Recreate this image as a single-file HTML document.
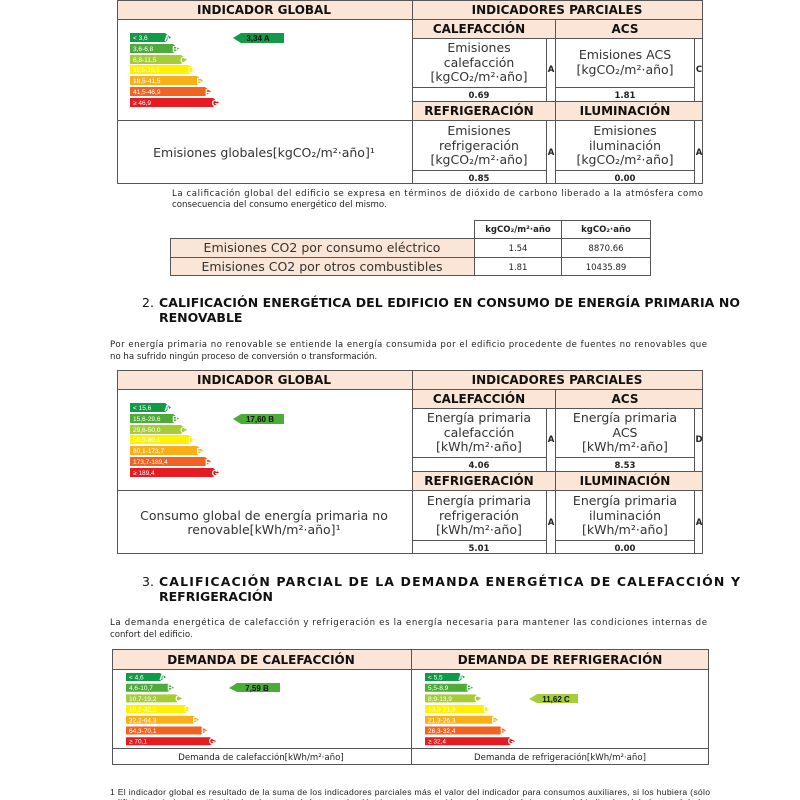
<!DOCTYPE html>
<html><head><meta charset="utf-8"><style>
html,body{margin:0;padding:0;background:#fff;}
svg{display:block;}
.h{font-family:"DejaVu Sans",sans-serif;font-weight:bold;font-size:12px;fill:#111;text-anchor:middle;}
.c{font-family:"DejaVu Sans",sans-serif;font-size:12.5px;fill:#333;text-anchor:middle;}
.v{font-family:"DejaVu Sans",sans-serif;font-weight:bold;font-size:8.5px;fill:#222;text-anchor:middle;}
.p{font-family:"DejaVu Sans",sans-serif;font-size:8.6px;fill:#222;}
.t{font-family:"DejaVu Sans",sans-serif;font-weight:bold;font-size:12.5px;fill:#111;}
.bl{font-family:"Liberation Sans",sans-serif;font-size:6.5px;fill:#fff;}
.bk{font-family:"Liberation Sans",sans-serif;font-size:8px;font-weight:bold;fill:#fff;text-anchor:end;}
.ik{font-family:"Liberation Sans",sans-serif;font-size:8px;font-weight:bold;fill:#111;text-anchor:middle;}
line{stroke:#555;stroke-width:1;}
</style></head><body>
<svg width="800" height="800" xmlns="http://www.w3.org/2000/svg">
<defs>
<g id="bars9">
<polygon points="0,0 35,0 41,4.5 35,9 0,9" fill="#139a48"/>
<polygon points="0,11 43,11 49,15.5 43,20 0,20" fill="#4dab3a"/>
<polygon points="0,22 51,22 57,26.5 51,31 0,31" fill="#a6cd39"/>
<polygon points="0,32 59,32 65,36.5 59,41 0,41" fill="#fff100"/>
<polygon points="0,43 67,43 73,47.5 67,52 0,52" fill="#f8b016"/>
<polygon points="0,54 75,54 81,58.5 75,63 0,63" fill="#f16322"/>
<polygon points="0,65 83,65 89,69.5 83,74 0,74" fill="#e51c22"/>
<text class="bk" x="40" y="8">A</text><text class="bk" x="48" y="19">B</text><text class="bk" x="56" y="30">C</text><text class="bk" x="64" y="40">D</text><text class="bk" x="72" y="51">E</text><text class="bk" x="80" y="62">F</text><text class="bk" x="88" y="73">G</text>
</g>
<g id="bars8">
<polygon points="0,0 34,0 40,4 34,8 0,8" fill="#139a48"/>
<polygon points="0,10.7 42,10.7 48,14.7 42,18.7 0,18.7" fill="#4dab3a"/>
<polygon points="0,21.4 50,21.4 56,25.4 50,29.4 0,29.4" fill="#a6cd39"/>
<polygon points="0,32 59,32 65,36 59,40 0,40" fill="#fff100"/>
<polygon points="0,42.8 67,42.8 73,46.8 67,50.8 0,50.8" fill="#f8b016"/>
<polygon points="0,53.5 75,53.5 81,57.5 75,61.5 0,61.5" fill="#f16322"/>
<polygon points="0,64.2 84,64.2 90,68.2 84,72.2 0,72.2" fill="#e51c22"/>
<text class="bk" x="39" y="7">A</text><text class="bk" x="47" y="17.7">B</text><text class="bk" x="55" y="28.4">C</text><text class="bk" x="64" y="39">D</text><text class="bk" x="72" y="49.8">E</text><text class="bk" x="80" y="60.5">F</text><text class="bk" x="89" y="71.2">G</text>
</g>
</defs>

<!-- TABLE 1 -->
<rect x="117" y="0" width="586" height="19" fill="#fbe5d6"/>
<rect x="412" y="19" width="291" height="19" fill="#fbe5d6"/>
<rect x="412" y="101" width="291" height="19" fill="#fbe5d6"/>
<rect x="117.5" y="0.5" width="585" height="183" fill="none" stroke="#555"/>
<line x1="117" y1="19.5" x2="703" y2="19.5"/>
<line x1="412.5" y1="0" x2="412.5" y2="183"/>
<line x1="412" y1="38.5" x2="703" y2="38.5"/>
<line x1="412" y1="87.5" x2="546" y2="87.5"/><line x1="555" y1="87.5" x2="694" y2="87.5"/>
<line x1="412" y1="101.5" x2="703" y2="101.5"/>
<line x1="117" y1="120.5" x2="703" y2="120.5"/>
<line x1="412" y1="170.5" x2="546" y2="170.5"/><line x1="555" y1="170.5" x2="694" y2="170.5"/>
<line x1="555.5" y1="19" x2="555.5" y2="183"/>
<line x1="546.5" y1="38" x2="546.5" y2="101"/><line x1="694.5" y1="38" x2="694.5" y2="101"/>
<line x1="546.5" y1="120" x2="546.5" y2="183"/><line x1="694.5" y1="120" x2="694.5" y2="183"/>
<text class="h" x="264" y="14">INDICADOR GLOBAL</text>
<text class="h" x="557" y="14">INDICADORES PARCIALES</text>
<text class="h" x="479" y="33">CALEFACCIÓN</text><text class="h" x="625" y="33">ACS</text>
<text class="c" x="479" y="52">Emisiones</text><text class="c" x="479" y="67">calefacción</text><text class="c" x="479" y="81">[kgCO₂/m²·año]</text>
<text class="v" x="551" y="72">A</text>
<text class="c" x="625" y="59">Emisiones ACS</text><text class="c" x="625" y="74">[kgCO₂/m²·año]</text>
<text class="v" x="699" y="72">C</text>
<text class="v" x="479" y="98">0.69</text><text class="v" x="625" y="98">1.81</text>
<text class="h" x="479" y="115">REFRIGERACIÓN</text><text class="h" x="625" y="115">ILUMINACIÓN</text>
<text class="c" x="479" y="135">Emisiones</text><text class="c" x="479" y="150">refrigeración</text><text class="c" x="479" y="164">[kgCO₂/m²·año]</text>
<text class="v" x="551" y="155">A</text>
<text class="c" x="625" y="135">Emisiones</text><text class="c" x="625" y="150">iluminación</text><text class="c" x="625" y="164">[kgCO₂/m²·año]</text>
<text class="v" x="699" y="155">A</text>
<text class="v" x="479" y="181">0.85</text><text class="v" x="625" y="181">0.00</text>
<text class="c" x="264" y="157">Emisiones globales[kgCO₂/m²·año]¹</text>
<g transform="translate(130,33)"><use href="#bars9"/>
<text class="bl" x="3" y="7">&lt; 3,6</text><text class="bl" x="3" y="18">3,6-6,8</text><text class="bl" x="3" y="29">6,8-11,5</text><text class="bl" x="3" y="39">11,5-18,5</text><text class="bl" x="3" y="50">18,5-41,5</text><text class="bl" x="3" y="61">41,5-46,9</text><text class="bl" x="3" y="72">≥ 46,9</text></g>
<polygon points="233,38 241,33 284,33 284,43 241,43" fill="#139a48"/>
<text class="ik" x="258" y="41">3,34 A</text>

<text class="p" x="172" y="196" textLength="531" lengthAdjust="spacing">La calificación global del edificio se expresa en términos de dióxido de carbono liberado a la atmósfera como</text>
<text class="p" x="172" y="207">consecuencia del consumo energético del mismo.</text>

<!-- small table -->
<rect x="170" y="238" width="305" height="38" fill="#fbe5d6"/>
<rect x="474.5" y="220.5" width="176" height="55" fill="none" stroke="#555"/>
<line x1="561.5" y1="220" x2="561.5" y2="276"/>
<line x1="170" y1="238.5" x2="650" y2="238.5"/>
<line x1="170" y1="257.5" x2="650" y2="257.5"/>
<line x1="170" y1="275.5" x2="650" y2="275.5"/>
<line x1="170.5" y1="238" x2="170.5" y2="276"/>
<text class="v" x="518" y="232">kgCO₂/m²·año</text><text class="v" x="606" y="232">kgCO₂·año</text>
<text class="c" x="322" y="252">Emisiones CO2 por consumo eléctrico</text>
<text class="c" x="322" y="271">Emisiones CO2 por otros combustibles</text>
<text class="v" x="518" y="251" style="font-weight:normal">1.54</text><text class="v" x="606" y="251" style="font-weight:normal">8870.66</text>
<text class="v" x="518" y="270" style="font-weight:normal">1.81</text><text class="v" x="606" y="270" style="font-weight:normal">10435.89</text>

<!-- heading 2 -->
<text class="t" x="142" y="307" style="font-weight:normal">2.</text>
<text class="t" x="159" y="307" textLength="581" lengthAdjust="spacing">CALIFICACIÓN ENERGÉTICA DEL EDIFICIO EN CONSUMO DE ENERGÍA PRIMARIA NO</text>
<text class="t" x="159" y="322">RENOVABLE</text>
<text class="p" x="110" y="347" textLength="597" lengthAdjust="spacing">Por energía primaria no renovable se entiende la energía consumida por el edificio procedente de fuentes no renovables que</text>
<text class="p" x="110" y="359">no ha sufrido ningún proceso de conversión o transformación.</text>

<!-- TABLE 2 -->
<g transform="translate(0,370)">
<rect x="117" y="0" width="586" height="19" fill="#fbe5d6"/>
<rect x="412" y="19" width="291" height="19" fill="#fbe5d6"/>
<rect x="412" y="101" width="291" height="19" fill="#fbe5d6"/>
<rect x="117.5" y="0.5" width="585" height="183" fill="none" stroke="#555"/>
<line x1="117" y1="19.5" x2="703" y2="19.5"/>
<line x1="412.5" y1="0" x2="412.5" y2="183"/>
<line x1="412" y1="38.5" x2="703" y2="38.5"/>
<line x1="412" y1="87.5" x2="546" y2="87.5"/><line x1="555" y1="87.5" x2="694" y2="87.5"/>
<line x1="412" y1="101.5" x2="703" y2="101.5"/>
<line x1="117" y1="120.5" x2="703" y2="120.5"/>
<line x1="412" y1="170.5" x2="546" y2="170.5"/><line x1="555" y1="170.5" x2="694" y2="170.5"/>
<line x1="555.5" y1="19" x2="555.5" y2="183"/>
<line x1="546.5" y1="38" x2="546.5" y2="101"/><line x1="694.5" y1="38" x2="694.5" y2="101"/>
<line x1="546.5" y1="120" x2="546.5" y2="183"/><line x1="694.5" y1="120" x2="694.5" y2="183"/>
<text class="h" x="264" y="14">INDICADOR GLOBAL</text>
<text class="h" x="557" y="14">INDICADORES PARCIALES</text>
<text class="h" x="479" y="33">CALEFACCIÓN</text><text class="h" x="625" y="33">ACS</text>
<text class="c" x="479" y="52">Energía primaria</text><text class="c" x="479" y="67">calefacción</text><text class="c" x="479" y="81">[kWh/m²·año]</text>
<text class="v" x="551" y="72">A</text>
<text class="c" x="625" y="52">Energía primaria</text><text class="c" x="625" y="67">ACS</text><text class="c" x="625" y="81">[kWh/m²·año]</text>
<text class="v" x="699" y="72">D</text>
<text class="v" x="479" y="98">4.06</text><text class="v" x="625" y="98">8.53</text>
<text class="h" x="479" y="115">REFRIGERACIÓN</text><text class="h" x="625" y="115">ILUMINACIÓN</text>
<text class="c" x="479" y="135">Energía primaria</text><text class="c" x="479" y="150">refrigeración</text><text class="c" x="479" y="164">[kWh/m²·año]</text>
<text class="v" x="551" y="155">A</text>
<text class="c" x="625" y="135">Energía primaria</text><text class="c" x="625" y="150">iluminación</text><text class="c" x="625" y="164">[kWh/m²·año]</text>
<text class="v" x="699" y="155">A</text>
<text class="v" x="479" y="181">5.01</text><text class="v" x="625" y="181">0.00</text>
<text class="c" x="264" y="150">Consumo global de energía primaria no</text>
<text class="c" x="264" y="164">renovable[kWh/m²·año]¹</text>
<g transform="translate(130,33)"><use href="#bars9"/>
<text class="bl" x="3" y="7">&lt; 15,6</text><text class="bl" x="3" y="18">15,6-29,6</text><text class="bl" x="3" y="29">29,6-50,0</text><text class="bl" x="3" y="39">50,0-80,1</text><text class="bl" x="3" y="50">80,1-173,7</text><text class="bl" x="3" y="61">173,7-189,4</text><text class="bl" x="3" y="72">≥ 189,4</text></g>
<polygon points="233,49 241,44 284,44 284,54 241,54" fill="#4dab3a"/>
<text class="ik" x="260" y="52">17,60 B</text>
</g>

<!-- heading 3 -->
<text class="t" x="142" y="586" style="font-weight:normal">3.</text>
<text class="t" x="159" y="586" textLength="581" lengthAdjust="spacing">CALIFICACIÓN PARCIAL DE LA DEMANDA ENERGÉTICA DE CALEFACCIÓN Y</text>
<text class="t" x="159" y="601">REFRIGERACIÓN</text>
<text class="p" x="110" y="625" textLength="597" lengthAdjust="spacing">La demanda energética de calefacción y refrigeración es la energía necesaria para mantener las condiciones internas de</text>
<text class="p" x="110" y="637">confort del edificio.</text>

<!-- TABLE 3 -->
<rect x="112" y="649" width="597" height="20" fill="#fbe5d6"/>
<rect x="112.5" y="649.5" width="596" height="115" fill="none" stroke="#555"/>
<line x1="112" y1="669.5" x2="709" y2="669.5"/>
<line x1="112" y1="748.5" x2="709" y2="748.5"/>
<line x1="411.5" y1="649" x2="411.5" y2="765"/>
<text class="h" x="261" y="664">DEMANDA DE CALEFACCIÓN</text>
<text class="h" x="560" y="664">DEMANDA DE REFRIGERACIÓN</text>
<text class="p" x="261" y="760" text-anchor="middle">Demanda de calefacción[kWh/m²·año]</text>
<text class="p" x="560" y="760" text-anchor="middle">Demanda de refrigeración[kWh/m²·año]</text>
<g transform="translate(126,673)"><use href="#bars8"/>
<text class="bl" x="3" y="6.5">&lt; 4,6</text><text class="bl" x="3" y="17.2">4,6-10,7</text><text class="bl" x="3" y="27.9">10,7-19,2</text><text class="bl" x="3" y="38.5">19,2-32,2</text><text class="bl" x="3" y="49.3">32,2-64,3</text><text class="bl" x="3" y="60">64,3-70,1</text><text class="bl" x="3" y="70.7">≥ 70,1</text></g>
<polygon points="229,688 237,683 280,683 280,692 237,692" fill="#4dab3a"/>
<text class="ik" x="257" y="691">7,59 B</text>
<g transform="translate(425,673)"><use href="#bars8"/>
<text class="bl" x="3" y="6.5">&lt; 5,5</text><text class="bl" x="3" y="17.2">5,5-8,9</text><text class="bl" x="3" y="27.9">8,9-13,9</text><text class="bl" x="3" y="38.5">13,9-21,3</text><text class="bl" x="3" y="49.3">21,3-26,3</text><text class="bl" x="3" y="60">26,3-32,4</text><text class="bl" x="3" y="70.7">≥ 32,4</text></g>
<polygon points="529,699 537,694 578,694 578,703 537,703" fill="#a6cd39"/>
<text class="ik" x="556" y="702">11,62 C</text>

<text class="p" x="110" y="795" textLength="600" lengthAdjust="spacing" style="font-family:'Liberation Sans',sans-serif;">1 El indicador global es resultado de la suma de los indicadores parciales más el valor del indicador para consumos auxiliares, si los hubiera (sólo</text>
<text class="p" x="110" y="805" textLength="600" lengthAdjust="spacing" style="font-family:'Liberation Sans',sans-serif;">edificios terciarios, ventilación, bombeo, etc...). La energía eléctrica autoconsumida se descuenta únicamente del indicador global, no así de los</text>
</svg>
</body></html>
